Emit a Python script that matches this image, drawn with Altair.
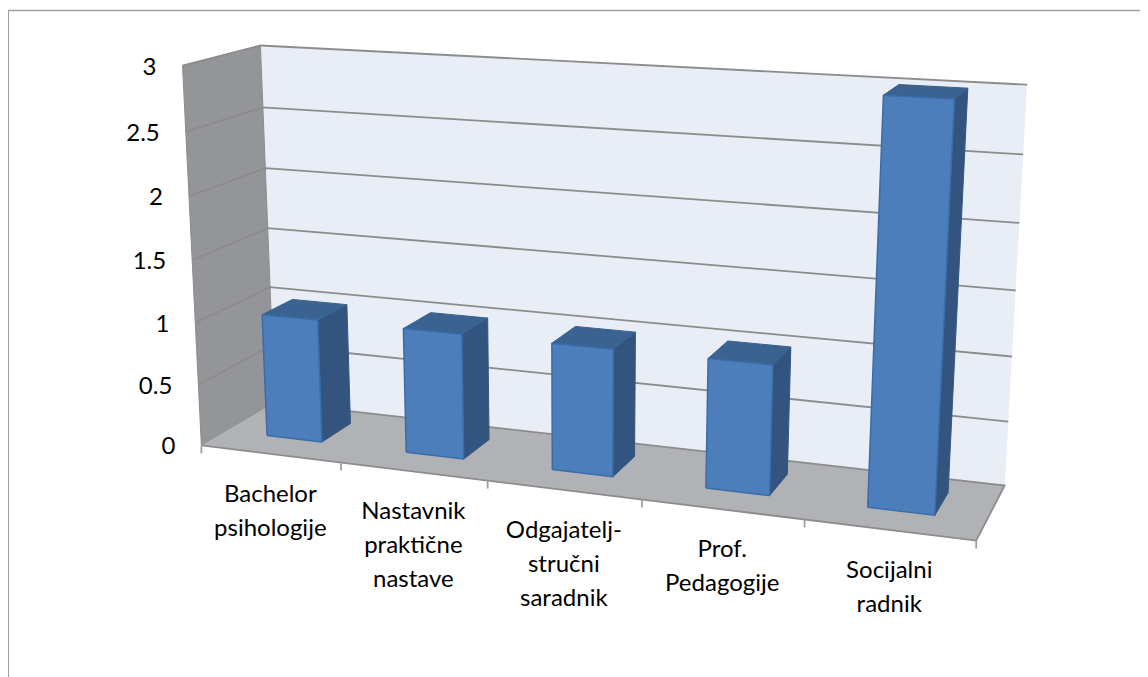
import numpy as np
import pandas as pd
import altair as alt

categories = [["Bachelor", "psihologije"], ["Nastavnik", "praktične", "nastave"],
              ["Odgajatelj-", "stručni", "saradnik"], ["Prof.", "Pedagogije"], ["Socijalni", "radnik"]]
values = [1, 1, 1, 1, 3]
y_ticks = [0, 0.5, 1, 1.5, 2, 2.5, 3]
y_tick_labels = ["0", "0.5", "1", "1.5", "2", "2.5", "3"]

FONT = "Lato"
FS = 24
GRID = "#8c8c8c"

# Perspective camera calibrated on the box corners: (u, value, w) -> picture position
calib_uvw = [(0, 0, 0), (1, 0, 0), (1, 0, 1), (0, 0, 1), (0, 3, 0), (0, 3, 1), (1, 3, 1)]
calib_px = [(203, 443), (976, 543), (1005, 483), (273, 405), (181, 66), (262, 45), (1027, 85)]

A = []
for (u, v, w), (px, py) in zip(calib_uvw, calib_px):
    X = [u, v / 3, w, 1]
    A.append(X + [0, 0, 0, 0] + [-px * c for c in X])
    A.append([0, 0, 0, 0] + X + [-py * c for c in X])
CAM = np.linalg.svd(np.array(A, float))[2][-1].reshape(3, 4)


def P(u, v, w):
    h = CAM @ np.array([u, v / 3, w, 1.0])
    return float(h[0] / h[2]), float(h[1] / h[2])


def shape_df(shapes):
    rows = []
    for sid, pts in enumerate(shapes):
        for i, p in enumerate(pts):
            rows.append({"sid": sid, "i": i, "x": p[0], "y": p[1]})
    return pd.DataFrame(rows)


xs = alt.Scale(domain=[8, 1140], nice=False, zero=False)
ys = alt.Scale(domain=[677, 8], nice=False, zero=False)


def enc(ch):
    return ch.encode(x=alt.X("x:Q", scale=xs, axis=None), y=alt.Y("y:Q", scale=ys, axis=None),
                     detail="sid:N", order="i:Q")


def poly(shapes, fill, stroke=None, sw=0):
    kw = dict(fill=fill, strokeWidth=sw, stroke=stroke if stroke else fill, strokeJoin="round")
    return enc(alt.Chart(shape_df(shapes)).mark_line(**kw))


def lines(shapes, color, sw=1.8):
    return enc(alt.Chart(shape_df(shapes)).mark_line(stroke=color, strokeWidth=sw))


def box(pts):
    return [P(*p) for p in pts]


n = len(values)
GAP_U = 0.3
W0, W1 = 0.33, 0.75
front, side, top = [], [], []
for k, val in enumerate(values):
    u0 = (k + GAP_U) / n
    u1 = (k + 1 - GAP_U) / n
    front.append(box([(u0, 0, W0), (u1, 0, W0), (u1, val, W0), (u0, val, W0), (u0, 0, W0)]))
    side.append(box([(u1, 0, W0), (u1, 0, W1), (u1, val, W1), (u1, val, W0), (u1, 0, W0)]))
    top.append(box([(u0, val, W0), (u1, val, W0), (u1, val, W1), (u0, val, W1), (u0, val, W0)]))

left_wall = box([(0, 0, 0), (0, 0, 1), (0, 3, 1), (0, 3, 0), (0, 0, 0)])
back_wall = box([(0, 0, 1), (1, 0, 1), (1, 3, 1), (0, 3, 1), (0, 0, 1)])
floor = box([(0, 0, 0), (1, 0, 0), (1, 0, 1), (0, 0, 1), (0, 0, 0)])

grid = [box([(0, v, 0), (0, v, 1), (1, v, 1)]) for v in y_ticks[1:]]
floor_edges = [box([(0, 0, 0), (1, 0, 0), (1, 0, 1), (0, 0, 1)])]
ticks = []
for k in range(n + 1):
    x0, y0 = P(k / n, 0, 0)
    ticks.append([(x0, y0), (x0, y0 + 8)])

ylabels = []
for v, t in zip(y_ticks, y_tick_labels):
    x0, y0 = P(0, v, 0)
    ylabels.append({"x": x0 - 26, "y": y0 + 2, "t": t})

xlabels = []
for k, cat in enumerate(categories):
    x0, y0 = P((k + 0.5) / n, 0, 0)
    for j, line in enumerate(cat):
        xlabels.append({"x": x0, "y": y0 + 41 + 34 * j, "t": line})

frame = pd.DataFrame({"sid": 0, "i": [0, 1, 2], "x": [8.3, 8.3, 1140], "y": [677, 10.5, 10.5]})

txt = lambda rows, align: alt.Chart(pd.DataFrame(rows)).mark_text(
    font=FONT, fontSize=FS, color="#000000", align=align, baseline="middle"
).encode(x=alt.X("x:Q", scale=xs, axis=None), y=alt.Y("y:Q", scale=ys, axis=None), text="t:N")

chart = alt.layer(
    enc(alt.Chart(frame).mark_line(stroke="#a0a0a0", strokeWidth=1.5)),
    poly([back_wall], "#e8edf6"),
    poly([left_wall], "#949598", "#8c8c8c", 1),
    poly([floor], "#b0b2b5"),
    lines(grid, GRID),
    lines(floor_edges, GRID),
    lines(ticks, "#a0a0a0"),
    poly(side, "#32547e", "#35587f", 1),
    poly(top, "#3b6391", "#38608f", 1),
    poly(front, "#4d7ebc", "#3a6ca8", 1.5),
    txt(ylabels, "right"),
    txt(xlabels, "center"),
).properties(width=1132, height=669, padding=0, background="#ffffff",
             autosize=alt.AutoSizeParams(type="none")).configure_view(stroke=None)

chart.save("out.html", embed_options={"renderer": "svg", "actions": False})
